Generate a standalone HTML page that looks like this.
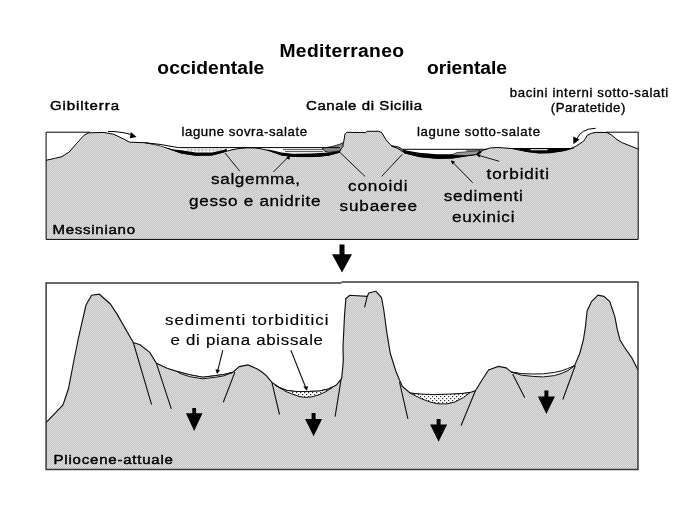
<!DOCTYPE html>
<html lang="it">
<head>
<meta charset="utf-8">
<title>Mediterraneo: Messiniano e Pliocene-attuale</title>
<style>
html,body{margin:0;padding:0;background:#fff;}
body{width:683px;height:512px;overflow:hidden;font-family:"Liberation Sans",Arial,Helvetica,sans-serif;}
svg{display:block;filter:grayscale(1);}
</style>
</head>
<body>
<svg width="683" height="512" viewBox="0 0 683 512" role="img" aria-label="Mediterraneo occidentale e orientale: Messiniano e Pliocene-attuale">
<defs><pattern id="dither" width="2" height="2" patternUnits="userSpaceOnUse"><rect width="2" height="2" fill="#c2c2c2"/><rect x="0" y="0" width="1" height="1" fill="#e0e0e0"/><rect x="1" y="1" width="1" height="1" fill="#e0e0e0"/></pattern><pattern id="dots" width="4" height="4" patternUnits="userSpaceOnUse"><rect width="4" height="4" fill="#fff"/><rect x="0" y="0" width="1.2" height="1.2" fill="#333"/><rect x="2" y="2" width="1.2" height="1.2" fill="#333"/></pattern></defs>
<rect width="683" height="512" fill="#fff"/>
<path d="M46.0,160.3 L54.6,158.4 L62.0,156.6 L69.3,151.9 L76.6,143.4 L83.9,135.4 L88.3,132.9 L103.0,132.4 L108.0,133.2 L113.3,134.2 L117.0,135.8 L124.3,139.4 L129.6,142.2 L144.6,142.7 L160.0,145.5 L174.0,150.5 L181.2,153.0 L195.9,155.3 L212.0,155.0 L223.7,152.0 L232.0,149.8 L239.0,148.5 L247.0,147.8 L255.0,147.9 L262.0,149.0 L269.8,150.9 L281.5,155.0 L293.0,156.5 L310.0,156.6 L320.0,156.2 L329.0,155.2 L339.3,152.3 L342.0,147.0 L343.7,142.0 L345.0,133.9 L346.6,132.3 L365.6,132.6 L367.0,131.3 L378.8,131.3 L381.7,132.6 L386.0,139.8 L392.0,146.4 L397.8,148.0 L404.6,153.0 L419.3,156.6 L436.9,158.4 L451.5,158.2 L466.0,156.0 L477.8,154.4 L482.7,150.4 L489.7,148.0 L497.9,147.5 L503.7,147.9 L514.0,148.8 L527.0,151.5 L538.8,153.0 L550.0,152.8 L564.6,150.5 L572.4,148.0 L576.8,145.7 L583.4,141.3 L585.6,138.3 L587.1,135.4 L591.5,133.3 L595.9,132.4 L607.0,132.5 L611.5,135.0 L615.9,138.8 L621.7,142.5 L629.0,145.4 L638.0,149.0 L638.0,239.4 L46.0,239.4 Z" fill="url(#dither)"/>
<path d="M46.0,160.3 L54.6,158.4 L62.0,156.6 L69.3,151.9 L76.6,143.4 L83.9,135.4 L88.3,132.9 L103.0,132.4 L108.0,133.2 L113.3,134.2 L117.0,135.8 L124.3,139.4 L129.6,142.2 L144.6,142.7 L160.0,145.5 L174.0,150.5 L181.2,153.0 L195.9,155.3 L212.0,155.0 L223.7,152.0 L232.0,149.8 L239.0,148.5 L247.0,147.8 L255.0,147.9 L262.0,149.0 L269.8,150.9 L281.5,155.0 L293.0,156.5 L310.0,156.6 L320.0,156.2 L329.0,155.2 L339.3,152.3 L342.0,147.0 L343.7,142.0 L345.0,133.9 L346.6,132.3 L365.6,132.6 L367.0,131.3 L378.8,131.3 L381.7,132.6 L386.0,139.8 L392.0,146.4 L397.8,148.0 L404.6,153.0 L419.3,156.6 L436.9,158.4 L451.5,158.2 L466.0,156.0 L477.8,154.4 L482.7,150.4 L489.7,148.0 L497.9,147.5 L503.7,147.9 L514.0,148.8 L527.0,151.5 L538.8,153.0 L550.0,152.8 L564.6,150.5 L572.4,148.0 L576.8,145.7 L583.4,141.3 L585.6,138.3 L587.1,135.4 L591.5,133.3 L595.9,132.4 L607.0,132.5 L611.5,135.0 L615.9,138.8 L621.7,142.5 L629.0,145.4 L638.0,149.0" fill="none" stroke="#000" stroke-width="1"/>
<path d="M90,132.2 H46.1 V239.4 H638.2 V132.2 H606" fill="none" stroke="#000" stroke-width="1"/>

<!-- west basin 1: evaporites -->
<path d="M147.6,142.9 L178.3,147.5 H226 L223.7,150 L212,152.5 L195.9,152.5 L181.2,150.2 L174,149.5 L160,145.5 Z" fill="#fff"/>
<path d="M186.5,150 H223.5" stroke="#999" stroke-width="0.6" fill="none"/>
<path d="M187.8,148.4 V150.6 M191.5,148.4 V152.2 M195.1,148.4 V152.2 M198.8,148.4 V152.2 M202.4,148.4 V152.2 M206.1,148.4 V152.2 M209.8,148.4 V152.2 M213.4,148.4 V152.2 M217.1,148.4 V152.2 M220.7,148.4 V150.6" stroke="#aaa" stroke-width="0.7" fill="none"/>
<path d="M150,144 L174,149.5 L181.2,150.2 L195.9,152.5 L212,152.5 L223.7,150 L226.5,148.6 L227,150.6 L223.7,152.4 L212,155.4 L195.9,155.7 L181.2,153.4 L174,150.9 L160,146 Z" fill="#000"/>
<!-- west basin 2: evaporites -->
<path d="M262,148 H340 L339.3,151 L329,152.5 L310,153.5 L293,154 L281.5,152.8 L272,150.5 Z" fill="#fff"/>
<path d="M283,149.6 H323 M285,151.6 H323" stroke="#000" stroke-width="0.7" fill="none"/>
<path d="M266,149.2 L272,150.3 L281.5,152.6 L293,153.8 L310,153.4 L329,152.4 L339.3,150.8 L340.3,152.6 L329,155.6 L320,156.6 L310,157 L293,156.9 L281.5,155.4 L269.8,151.3 Z" fill="#000"/>
<!-- alluvial fans at the Sicily sill -->
<path d="M322,148.1 L332,146.6 L339.3,144.4 L342.5,142.9 L343.4,146 L339.3,151 L329,152.4 L324.5,151.2 Z" fill="#888" stroke="#000" stroke-width="0.8"/>
<path d="M391,145.6 L398,146.8 L404,149.8 L409,152.6 L404.6,152.4 L397.8,148.6 Z" fill="#888" stroke="#000" stroke-width="0.8"/>
<!-- east basin: euxinic sediments + turbidites -->
<path d="M404,149.4 H484 L481,150.2 L477.8,151.5 L466,153 L451.5,154.4 L436.9,154.4 L419.3,153 L406,150.6 Z" fill="#fff"/>
<path d="M466,150.7 H483 M468,152 H479" stroke="#000" stroke-width="0.6" fill="none"/>
<path d="M402.6,149.8 L404.6,150.3 L419.3,152.8 L436.9,154.2 L451.5,154.2 L466,152.8 L477.8,151.3 L480,150.6 L481.6,152.8 L477.8,154.6 L466,156.3 L451.5,158.5 L436.9,158.7 L419.3,156.9 L404.6,153.3 Z" fill="#000"/>
<path d="M456.9,152.6 L480.4,150.6 L476,154.4 L465.1,155.6 L451.1,155 Z" fill="#9a9a9a" stroke="#000" stroke-width="0.6"/>
<!-- inner basin (Paratethys) -->
<path d="M511,148 L514,148.1 H571 L573.4,147.2 L574.2,148.3 L564.6,150.9 L550,153.1 L538.8,153.3 L527,151.9 L514,149.3 Z" fill="#000"/>
<path d="M530.5,149.7 H547.5" stroke="#fff" stroke-width="1.1" fill="none"/>
<!-- water / brine surfaces -->
<g fill="none" stroke="#000" stroke-width="1">
<path d="M144.6,142.7 L160,144.4 L178.3,147.6 H340"/>
<path d="M403,149.3 H487"/>
</g>
<!-- overflow arrows -->
<g fill="none" stroke="#000" stroke-width="1">
<path d="M108,131.4 L115,131.6 Q123,132.2 131,134.4"/>
<path d="M595.6,128.3 Q581,128.6 576.4,139.6"/>
</g>
<path d="M130.8,132 L136.6,137 L129.8,138.2 Z" fill="#000"/>
<path d="M573.2,136.4 L579.6,139.6 L573.4,144.2 Z" fill="#000"/>
<!-- label leaders -->
<g fill="none" stroke="#000" stroke-width="0.9">
<path d="M239.8,171.2 L225,153"/>
<path d="M273.4,172 L288.8,156.5"/>
<path d="M365,176.4 L340,152.5"/>
<path d="M381.7,176.4 L402.2,154.4"/>
<path d="M472.7,182.7 L451.5,161"/>
<path d="M499.3,161.3 L477.3,155"/>
</g>
<path d="M286,158 L289.6,155.6 L289.6,159.8 Z" fill="#000"/>
<path d="M451,160.2 L455.2,161.8 L452.2,164.6 Z" fill="#000"/>
<path d="M476.4,154.4 L480.6,154.4 L479.4,157.4 Z" fill="#000"/>

<path d="M46.0,422.6 L63.0,405.0 L68.5,388.5 L74.0,360.0 L78.4,338.0 L86.0,305.0 L91.6,295.3 L99.3,294.2 L110.3,304.0 L116.9,313.9 L133.3,342.5 L140.0,344.7 L149.8,352.4 L156.4,363.3 L167.1,368.3 L177.7,371.6 L189.5,374.7 L202.7,377.2 L215.9,375.6 L223.8,374.5 L232.7,372.4 L239.3,366.6 L248.0,364.9 L256.9,368.8 L262.0,372.0 L266.6,375.8 L271.9,382.4 L279.8,387.7 L286.4,390.3 L294.3,391.4 L306.1,391.6 L319.3,391.0 L328.5,389.0 L336.4,385.0 L341.7,378.4 L342.7,367.9 L343.3,360.0 L343.0,346.9 L344.6,313.9 L345.9,298.6 L349.7,295.3 L367.2,296.4 L368.8,293.0 L376.0,291.3 L381.5,297.5 L383.7,309.5 L387.0,333.7 L390.3,353.5 L395.8,371.0 L399.5,380.0 L402.4,386.4 L410.0,393.0 L420.0,394.2 L434.2,394.9 L451.8,394.2 L463.0,393.5 L470.0,392.5 L475.4,390.7 L482.0,380.0 L488.6,369.9 L498.4,366.4 L506.1,367.9 L511.6,372.1 L521.5,374.0 L532.5,375.0 L543.5,375.3 L554.4,374.0 L561.0,372.5 L567.6,370.0 L574.6,365.6 L579.8,353.2 L583.4,340.0 L585.6,325.6 L587.1,311.0 L591.5,301.5 L598.0,295.2 L603.9,296.4 L609.8,301.5 L614.9,316.9 L617.1,328.6 L620.0,340.0 L624.4,347.3 L631.7,357.6 L638.0,370.0 L638.0,469.4 L46.0,469.4 Z" fill="url(#dither)"/>
<path d="M46.0,422.6 L63.0,405.0 L68.5,388.5 L74.0,360.0 L78.4,338.0 L86.0,305.0 L91.6,295.3 L99.3,294.2 L110.3,304.0 L116.9,313.9 L133.3,342.5 L140.0,344.7 L149.8,352.4 L156.4,363.3 L167.1,368.3 L177.7,371.6 L189.5,374.7 L202.7,377.2 L215.9,375.6 L223.8,374.5 L232.7,372.4 L239.3,366.6 L248.0,364.9 L256.9,368.8 L262.0,372.0 L266.6,375.8 L271.9,382.4 L279.8,387.7 L286.4,390.3 L294.3,391.4 L306.1,391.6 L319.3,391.0 L328.5,389.0 L336.4,385.0 L341.7,378.4 L342.7,367.9 L343.3,360.0 L343.0,346.9 L344.6,313.9 L345.9,298.6 L349.7,295.3 L367.2,296.4 L368.8,293.0 L376.0,291.3 L381.5,297.5 L383.7,309.5 L387.0,333.7 L390.3,353.5 L395.8,371.0 L399.5,380.0 L402.4,386.4 L410.0,393.0 L420.0,394.2 L434.2,394.9 L451.8,394.2 L463.0,393.5 L470.0,392.5 L475.4,390.7 L482.0,380.0 L488.6,369.9 L498.4,366.4 L506.1,367.9 L511.6,372.1 L521.5,374.0 L532.5,375.0 L543.5,375.3 L554.4,374.0 L561.0,372.5 L567.6,370.0 L574.6,365.6 L579.8,353.2 L583.4,340.0 L585.6,325.6 L587.1,311.0 L591.5,301.5 L598.0,295.2 L603.9,296.4 L609.8,301.5 L614.9,316.9 L617.1,328.6 L620.0,340.0 L624.4,347.3 L631.7,357.6 L638.0,370.0" fill="none" stroke="#111" stroke-width="1.15"/>
<path d="M341.5,283.1 H46.1 V469.4 H638 V282.1 H341.5" fill="none" stroke="#3a3a3a" stroke-width="1.5"/>

<!-- basin sediments -->
<path d="M177.7,371.6 L189.5,374.7 L202.7,377.2 L215.9,375.6 L223.8,374.5 L232.7,372.4 L224,375.8 L215.9,377.2 L202.7,378.8 L189.5,376.6 L180,373.4 Z" fill="#f4f4f4" stroke="#111" stroke-width="1"/>
<path d="M275,385 L279.8,387.7 L286.4,390.3 L294.3,391.4 L306.1,391.6 L319.3,391 L328.5,389 L333,387 L326,391.6 L319,394.8 L312,396.8 L306.1,397.4 L300,396.8 L294.3,394.8 L286,391.6 Z" fill="url(#dots)" stroke="#111" stroke-width="1"/>
<path d="M410,393 L420,394 L434.2,394.6 L451.8,394 L463,393.4 L470,392.5 L463.5,397.5 L455,402 L447,403.9 L438,403.8 L430,402 L421,398.6 Z" fill="url(#dots)" stroke="#111" stroke-width="1"/>
<path d="M511.6,372.1 L521.5,373.6 L532.5,374 L543.5,373.8 L554.4,372.4 L561,371 L567.6,368.6 L574.6,365.6 L568,370.6 L561,373.6 L554.4,375.6 L543.5,376.9 L532.5,376.4 L521.5,375.2 Z" fill="#f4f4f4" stroke="#111" stroke-width="1"/>
<!-- faults -->
<g fill="none" stroke="#111" stroke-width="1.1">
<path d="M133.3,342.5 L151.6,404.6"/>
<path d="M156.4,363.3 L171.3,408.8"/>
<path d="M234.9,372.1 L223.3,402.2"/>
<path d="M271.9,382.4 L279.5,414.5"/>
<path d="M341,379.8 L335.1,416.7"/>
<path d="M367.2,296.4 L364.6,307.3"/>
<path d="M399.5,382 L407.9,418.9"/>
<path d="M475.4,390.7 L461.1,425.5"/>
<path d="M512.7,374.3 L524.8,397.8"/>
<path d="M575.3,365.5 L562.8,399.5"/>
<!-- label leaders -->
<path d="M222.8,350.2 L217.4,372"/>
<path d="M290.9,350.2 L306.1,388.5"/>
</g>
<path d="M215.4,369.2 L220,370.2 L217,374 Z" fill="#000"/>
<path d="M303.2,386.6 L308.1,386.6 L306.9,390.8 Z" fill="#000"/>

<path d="M339.5,244.6 H344.5 V254.2 H352.0 L342.0,272.5 L332.0,254.2 H339.5 Z" fill="#000"/>
<path d="M192.3,407.9 H196.1 V413.2 H202.5 L194.2,430.9 L185.9,413.2 H192.3 Z" fill="#000"/>
<path d="M311.6,413.0 H315.6 V419.0 H322.1 L313.6,436.3 L305.1,419.0 H311.6 Z" fill="#000"/>
<path d="M436.6,419.0 H440.6 V424.6 H447.1 L438.6,441.8 L430.1,424.6 H436.6 Z" fill="#000"/>
<path d="M544.4,390.5 H548.4 V396.5 H554.9 L546.4,413.9 L537.9,396.5 H544.4 Z" fill="#000"/>
<g font-family="'Liberation Sans', Arial, Helvetica, sans-serif" fill="#000">
<text transform="translate(279.5,57) scale(1.07,1)" font-size="18.00" font-weight="bold" textLength="116.36" lengthAdjust="spacing" stroke="#000" stroke-width="0.05" stroke-linejoin="round">Mediterraneo</text>
<text transform="translate(157.3,74) scale(1.07,1)" font-size="18.00" font-weight="bold" textLength="100.00" lengthAdjust="spacing" stroke="#000" stroke-width="0.05" stroke-linejoin="round">occidentale</text>
<text transform="translate(427,74) scale(1.07,1)" font-size="18.00" font-weight="bold" textLength="74.77" lengthAdjust="spacing" stroke="#000" stroke-width="0.05" stroke-linejoin="round">orientale</text>
<text transform="translate(50,109.5) scale(1.11,1)" font-size="13.50" font-weight="normal" textLength="62.16" lengthAdjust="spacing" stroke="#000" stroke-width="0.45" stroke-linejoin="round">Gibilterra</text>
<text transform="translate(306,109.5) scale(1.11,1)" font-size="13.50" font-weight="normal" textLength="104.50" lengthAdjust="spacing" stroke="#000" stroke-width="0.45" stroke-linejoin="round">Canale di Sicilia</text>
<text transform="translate(509.8,97.2) scale(1.1,1)" font-size="12.00" font-weight="normal" textLength="144.09" lengthAdjust="spacing" stroke="#000" stroke-width="0.32" stroke-linejoin="round">bacini interni sotto-salati</text>
<text transform="translate(550.8,111.8) scale(1.1,1)" font-size="12.00" font-weight="normal" textLength="67.73" lengthAdjust="spacing" stroke="#000" stroke-width="0.32" stroke-linejoin="round">(Paratetide)</text>
<text transform="translate(181.5,135.7) scale(1.1,1)" font-size="12.00" font-weight="normal" textLength="114.09" lengthAdjust="spacing" stroke="#000" stroke-width="0.32" stroke-linejoin="round">lagune sovra-salate</text>
<text transform="translate(417,135.7) scale(1.1,1)" font-size="12.00" font-weight="normal" textLength="111.82" lengthAdjust="spacing" stroke="#000" stroke-width="0.32" stroke-linejoin="round">lagune sotto-salate</text>
<text transform="translate(211,183.5) scale(1.12,1)" font-size="15.30" font-weight="normal" textLength="79.46" lengthAdjust="spacing" stroke="#000" stroke-width="0.3" stroke-linejoin="round">salgemma,</text>
<text transform="translate(189,205.5) scale(1.12,1)" font-size="15.30" font-weight="normal" textLength="117.41" lengthAdjust="spacing" stroke="#000" stroke-width="0.3" stroke-linejoin="round">gesso e anidrite</text>
<text transform="translate(348,190.5) scale(1.12,1)" font-size="15.30" font-weight="normal" textLength="53.12" lengthAdjust="spacing" stroke="#000" stroke-width="0.3" stroke-linejoin="round">conoidi</text>
<text transform="translate(339.5,210.5) scale(1.12,1)" font-size="15.30" font-weight="normal" textLength="69.20" lengthAdjust="spacing" stroke="#000" stroke-width="0.3" stroke-linejoin="round">subaeree</text>
<text transform="translate(486.5,178.5) scale(1.12,1)" font-size="15.30" font-weight="normal" textLength="55.80" lengthAdjust="spacing" stroke="#000" stroke-width="0.3" stroke-linejoin="round">torbiditi</text>
<text transform="translate(443.7,201) scale(1.12,1)" font-size="15.30" font-weight="normal" textLength="70.54" lengthAdjust="spacing" stroke="#000" stroke-width="0.3" stroke-linejoin="round">sedimenti</text>
<text transform="translate(452,222.2) scale(1.12,1)" font-size="15.30" font-weight="normal" textLength="55.80" lengthAdjust="spacing" stroke="#000" stroke-width="0.3" stroke-linejoin="round">euxinici</text>
<text transform="translate(52.5,233.5) scale(1.11,1)" font-size="13.50" font-weight="normal" textLength="74.32" lengthAdjust="spacing" stroke="#000" stroke-width="0.45" stroke-linejoin="round">Messiniano</text>
<text transform="translate(53.6,463.7) scale(1.11,1)" font-size="13.50" font-weight="normal" textLength="107.48" lengthAdjust="spacing" stroke="#000" stroke-width="0.45" stroke-linejoin="round">Pliocene-attuale</text>
<text transform="translate(165,325) scale(1.12,1)" font-size="15.04" font-weight="normal" textLength="145.98" lengthAdjust="spacing" stroke="#000" stroke-width="0.16" stroke-linejoin="round">sedimenti torbiditici</text>
<text transform="translate(170.5,344.5) scale(1.12,1)" font-size="15.04" font-weight="normal" textLength="136.16" lengthAdjust="spacing" stroke="#000" stroke-width="0.16" stroke-linejoin="round">e di piana abissale</text>
</g>
</svg>
</body>
</html>
